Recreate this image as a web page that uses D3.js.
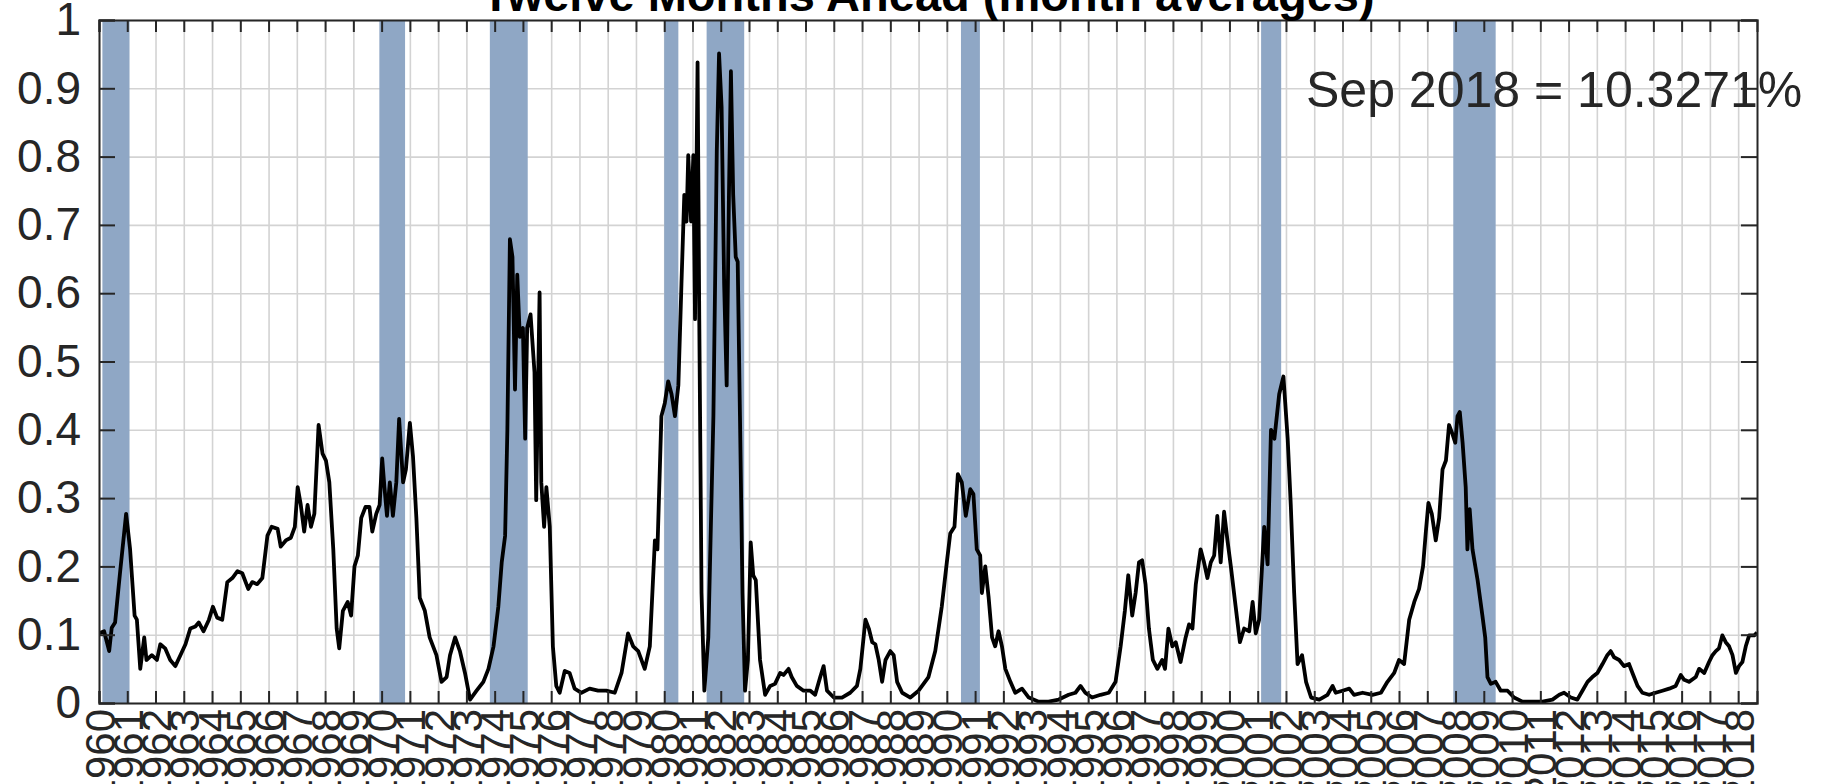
<!DOCTYPE html>
<html>
<head>
<meta charset="utf-8">
<script src="https://cdn.jsdelivr.net/npm/d3@7"></script>
<style>
  html, body { margin: 0; padding: 0; background: #fff; overflow: hidden; }
  svg { display: block; font-family: "Liberation Sans", Arial, Helvetica, sans-serif; }
  .grid line { stroke: #d3d3d3; stroke-width: 1.6; }
  .grid path { display: none; }
  .axis path, .axis line { stroke: #262626; stroke-width: 2; }
  .axis text { fill: #262626; }
</style>
</head>
<body>
<div id="chart"></div>
<script>
// recession probability, twelve months ahead
let dates = [
  1960.00, 1960.18, 1960.36, 1960.45, 1960.57, 1960.75, 1960.96, 1961.10, 1961.26, 1961.34,
  1961.46, 1961.60, 1961.68, 1961.87, 1962.05, 1962.17, 1962.34, 1962.52, 1962.70, 1962.88,
  1963.06, 1963.23, 1963.41, 1963.53, 1963.70, 1963.89, 1964.03, 1964.18, 1964.36, 1964.54,
  1964.72, 1964.90, 1965.07, 1965.28, 1965.42, 1965.60, 1965.78, 1965.96, 1966.11, 1966.32,
  1966.43, 1966.61, 1966.79, 1966.93, 1967.03, 1967.14, 1967.26, 1967.38, 1967.50, 1967.62,
  1967.77, 1967.91, 1968.03, 1968.15, 1968.29, 1968.41, 1968.50, 1968.63, 1968.80, 1968.92,
  1969.04, 1969.16, 1969.28, 1969.43, 1969.57, 1969.67, 1969.81, 1969.93, 1970.02, 1970.10,
  1970.19, 1970.29, 1970.40, 1970.52, 1970.62, 1970.76, 1970.86, 1971.00, 1971.11, 1971.23,
  1971.35, 1971.53, 1971.70, 1971.94, 1972.12, 1972.30, 1972.42, 1972.60, 1972.77, 1972.95,
  1973.13, 1973.36, 1973.60, 1973.78, 1973.96, 1974.13, 1974.25, 1974.37, 1974.45, 1974.54,
  1974.63, 1974.72, 1974.80, 1974.89, 1975.00, 1975.08, 1975.15, 1975.27, 1975.41, 1975.47,
  1975.59, 1975.65, 1975.75, 1975.83, 1975.95, 1976.06, 1976.18, 1976.30, 1976.48, 1976.65,
  1976.83, 1977.07, 1977.36, 1977.66, 1977.95, 1978.25, 1978.49, 1978.72, 1978.90, 1979.08,
  1979.31, 1979.49, 1979.67, 1979.76, 1979.90, 1980.02, 1980.14, 1980.26, 1980.38, 1980.50,
  1980.61, 1980.71, 1980.79, 1980.85, 1980.95, 1981.03, 1981.09, 1981.18, 1981.24, 1981.32,
  1981.42, 1981.56, 1981.74, 1981.86, 1981.94, 1982.03, 1982.12, 1982.21, 1982.29, 1982.36,
  1982.44, 1982.53, 1982.60, 1982.68, 1982.77, 1982.86, 1982.96, 1983.06, 1983.15, 1983.24,
  1983.39, 1983.57, 1983.75, 1983.92, 1984.10, 1984.22, 1984.40, 1984.51, 1984.69, 1984.93,
  1985.17, 1985.34, 1985.52, 1985.64, 1985.76, 1986.00, 1986.29, 1986.58, 1986.82, 1986.94,
  1987.12, 1987.24, 1987.36, 1987.47, 1987.59, 1987.71, 1987.83, 1988.00, 1988.12, 1988.24,
  1988.42, 1988.71, 1989.00, 1989.35, 1989.59, 1989.82, 1990.00, 1990.12, 1990.27, 1990.39,
  1990.53, 1990.67, 1990.83, 1990.94, 1991.06, 1991.18, 1991.24, 1991.36, 1991.48, 1991.60,
  1991.71, 1991.83, 1991.95, 1992.07, 1992.25, 1992.42, 1992.66, 1992.90, 1993.25, 1993.60,
  1993.96, 1994.31, 1994.55, 1994.73, 1994.90, 1995.14, 1995.44, 1995.73, 1995.97, 1996.15,
  1996.30, 1996.42, 1996.56, 1996.68, 1996.80, 1996.91, 1997.03, 1997.15, 1997.29, 1997.45,
  1997.62, 1997.72, 1997.84, 1997.98, 1998.10, 1998.27, 1998.45, 1998.57, 1998.69, 1998.81,
  1998.98, 1999.10, 1999.22, 1999.34, 1999.46, 1999.57, 1999.69, 1999.81, 1999.93, 2000.05,
  2000.22, 2000.37, 2000.52, 2000.70, 2000.82, 2000.93, 2001.05, 2001.23, 2001.35, 2001.47,
  2001.59, 2001.76, 2001.91, 2002.06, 2002.17, 2002.29, 2002.41, 2002.57, 2002.71, 2002.89,
  2003.18, 2003.47, 2003.65, 2003.76, 2004.00, 2004.24, 2004.41, 2004.71, 2005.06, 2005.36,
  2005.59, 2005.83, 2006.00, 2006.18, 2006.36, 2006.54, 2006.71, 2006.85, 2006.95, 2007.04,
  2007.16, 2007.30, 2007.42, 2007.54, 2007.66, 2007.77, 2007.89, 2007.99, 2008.07, 2008.15,
  2008.25, 2008.36, 2008.42, 2008.50, 2008.60, 2008.78, 2008.95, 2009.05, 2009.13, 2009.25,
  2009.42, 2009.60, 2009.84, 2010.07, 2010.37, 2010.72, 2011.08, 2011.43, 2011.67, 2011.84,
  2012.08, 2012.31, 2012.49, 2012.67, 2012.84, 2013.02, 2013.20, 2013.37, 2013.49, 2013.61,
  2013.79, 2013.96, 2014.14, 2014.26, 2014.44, 2014.61, 2014.85, 2015.08, 2015.32, 2015.56,
  2015.79, 2015.97, 2016.09, 2016.26, 2016.50, 2016.62, 2016.80, 2016.97, 2017.09, 2017.21,
  2017.32, 2017.44, 2017.56, 2017.68, 2017.80, 2017.92, 2018.03, 2018.15, 2018.27, 2018.39,
  2018.57, 2018.67
];

let probs = [
  0.102, 0.105, 0.076, 0.110, 0.118, 0.193, 0.277, 0.225, 0.128, 0.122,
  0.050, 0.096, 0.063, 0.070, 0.063, 0.086, 0.080, 0.063, 0.054, 0.070,
  0.086, 0.109, 0.112, 0.118, 0.105, 0.122, 0.141, 0.125, 0.122, 0.177,
  0.183, 0.193, 0.190, 0.167, 0.177, 0.174, 0.183, 0.245, 0.258, 0.255,
  0.229, 0.238, 0.242, 0.258, 0.316, 0.290, 0.251, 0.290, 0.258, 0.277,
  0.407, 0.365, 0.355, 0.323, 0.225, 0.109, 0.080, 0.135, 0.148, 0.128,
  0.200, 0.216, 0.271, 0.287, 0.287, 0.251, 0.277, 0.290, 0.358, 0.316,
  0.274, 0.323, 0.274, 0.323, 0.416, 0.323, 0.342, 0.410, 0.361, 0.271,
  0.154, 0.135, 0.096, 0.070, 0.031, 0.038, 0.070, 0.096, 0.076, 0.044,
  0.005, 0.018, 0.031, 0.050, 0.083, 0.141, 0.206, 0.245, 0.400, 0.679,
  0.653, 0.459, 0.627, 0.536, 0.549, 0.387, 0.549, 0.569, 0.484, 0.297,
  0.601, 0.323, 0.258, 0.316, 0.258, 0.083, 0.025, 0.015, 0.047, 0.044,
  0.021, 0.015, 0.021, 0.018, 0.018, 0.015, 0.044, 0.102, 0.083, 0.076,
  0.050, 0.083, 0.238, 0.225, 0.420, 0.439, 0.471, 0.452, 0.420, 0.465,
  0.614, 0.744, 0.705, 0.802, 0.705, 0.802, 0.562, 0.938, 0.562, 0.161,
  0.018, 0.096, 0.420, 0.808, 0.951, 0.873, 0.614, 0.465, 0.744, 0.925,
  0.744, 0.653, 0.646, 0.420, 0.161, 0.018, 0.063, 0.235, 0.187, 0.180,
  0.063, 0.012, 0.025, 0.028, 0.044, 0.041, 0.050, 0.038, 0.025, 0.018,
  0.018, 0.012, 0.038, 0.054, 0.018, 0.008, 0.008, 0.015, 0.025, 0.050,
  0.122, 0.109, 0.089, 0.086, 0.063, 0.031, 0.063, 0.076, 0.070, 0.031,
  0.015, 0.008, 0.018, 0.038, 0.076, 0.141, 0.206, 0.248, 0.258, 0.335,
  0.323, 0.274, 0.313, 0.306, 0.225, 0.216, 0.161, 0.200, 0.154, 0.096,
  0.083, 0.105, 0.083, 0.050, 0.031, 0.015, 0.021, 0.008, 0.002, 0.002,
  0.005, 0.012, 0.015, 0.025, 0.015, 0.008, 0.012, 0.015, 0.031, 0.083,
  0.135, 0.187, 0.128, 0.161, 0.206, 0.209, 0.174, 0.109, 0.063, 0.050,
  0.063, 0.050, 0.109, 0.083, 0.089, 0.060, 0.096, 0.115, 0.109, 0.174,
  0.225, 0.206, 0.183, 0.206, 0.216, 0.274, 0.206, 0.280, 0.238, 0.200,
  0.141, 0.089, 0.109, 0.105, 0.148, 0.102, 0.122, 0.258, 0.203, 0.400,
  0.387, 0.452, 0.478, 0.387, 0.290, 0.161, 0.057, 0.070, 0.031, 0.008,
  0.005, 0.012, 0.025, 0.015, 0.018, 0.021, 0.012, 0.015, 0.012, 0.015,
  0.031, 0.044, 0.063, 0.057, 0.122, 0.148, 0.167, 0.200, 0.251, 0.293,
  0.277, 0.238, 0.271, 0.342, 0.355, 0.407, 0.394, 0.381, 0.420, 0.426,
  0.381, 0.316, 0.225, 0.284, 0.225, 0.180, 0.128, 0.096, 0.038, 0.028,
  0.031, 0.018, 0.018, 0.008, 0.002, 0.002, 0.002, 0.005, 0.012, 0.015,
  0.008, 0.005, 0.018, 0.031, 0.038, 0.044, 0.057, 0.070, 0.076, 0.067,
  0.063, 0.054, 0.057, 0.044, 0.025, 0.015, 0.012, 0.015, 0.018, 0.021,
  0.025, 0.041, 0.034, 0.031, 0.038, 0.050, 0.044, 0.060, 0.070, 0.076,
  0.080, 0.099, 0.089, 0.083, 0.070, 0.044, 0.054, 0.060, 0.083, 0.099,
  0.099, 0.103
];

// recession bands, start / end as decimal years
let recStart = [1960.12, 1969.92, 1973.83, 1980.00, 1981.50, 1990.50, 2001.12, 2007.92];
let recEnd   = [1961.08, 1970.83, 1975.17, 1980.50, 1982.83, 1991.17, 2001.83, 2009.42];

let years = d3.range(1960, 2019);
let yTicks = [0, 0.1, 0.2, 0.3, 0.4, 0.5, 0.6, 0.7, 0.8, 0.9, 1];

let titleText = "Twelve Months Ahead (month averages)";
let noteText = "Sep 2018 = 10.3271%";

let width = 1829;
let height = 784;

let plotLeft = 99;
let plotRight = 1757;
let plotTop = 20;
let plotBottom = 703;

let svg = d3
  .select("#chart")
  .append("svg")
  .attr("width", width)
  .attr("height", height);

let xScale = d3.scaleLinear().domain([1960, 2018.667]).range([plotLeft, plotRight]);
let yScale = d3.scaleLinear().domain([0, 1]).range([plotBottom, plotTop]);

// grid
svg
  .append("g")
  .attr("class", "grid")
  .attr("transform", "translate(0," + plotBottom + ")")
  .call(d3.axisBottom(xScale).tickValues(years).tickSize(-(plotBottom - plotTop)).tickFormat(""));

svg
  .append("g")
  .attr("class", "grid")
  .attr("transform", "translate(" + plotLeft + ",0)")
  .call(d3.axisLeft(yScale).tickValues(yTicks).tickSize(-(plotRight - plotLeft)).tickFormat(""));

// recession bands
let bands = recStart.map(function(s, i) {
  return { s: s, e: recEnd[i] };
});

svg
  .append("g")
  .selectAll("rect")
  .data(bands)
  .enter()
  .append("rect")
  .attr("x", function(d) { return xScale(d.s); })
  .attr("width", function(d) { return xScale(d.e) - xScale(d.s); })
  .attr("y", plotTop)
  .attr("height", plotBottom - plotTop)
  .attr("fill", "#8fa7c5");

// clip for the line
svg
  .append("clipPath")
  .attr("id", "plotClip")
  .append("rect")
  .attr("x", plotLeft)
  .attr("y", plotTop)
  .attr("width", plotRight - plotLeft)
  .attr("height", plotBottom - plotTop);

let series = dates.map(function(d, i) {
  return { x: d, y: probs[i] };
});

let line = d3
  .line()
  .x(function(d) { return xScale(d.x); })
  .y(function(d) { return yScale(d.y); });

svg
  .append("path")
  .datum(series)
  .attr("clip-path", "url(#plotClip)")
  .attr("fill", "none")
  .attr("stroke", "#000")
  .attr("stroke-width", 3.8)
  .attr("stroke-linejoin", "round")
  .attr("d", line);

// axes, ticks pointing inward like matlab
let xAxis = svg
  .append("g")
  .attr("class", "axis")
  .attr("transform", "translate(0," + plotBottom + ")")
  .call(d3.axisBottom(xScale).tickValues(years).tickSize(-12).tickPadding(0).tickFormat(d3.format("d")));

xAxis
  .selectAll("text")
  .attr("font-size", 42)
  .attr("text-anchor", "end")
  .attr("transform", "rotate(-90)")
  .attr("x", -6)
  .attr("y", 0)
  .attr("dy", "0.36em");

svg
  .append("g")
  .attr("class", "axis")
  .attr("transform", "translate(0," + plotTop + ")")
  .call(d3.axisTop(xScale).tickValues(years).tickSize(-12).tickFormat(""));

let yAxis = svg
  .append("g")
  .attr("class", "axis")
  .attr("transform", "translate(" + plotLeft + ",0)")
  .call(d3.axisLeft(yScale).tickValues(yTicks).tickSize(-16).tickPadding(18).tickFormat(d3.format("~g")));

yAxis.selectAll("text").attr("font-size", 46);

svg
  .append("g")
  .attr("class", "axis")
  .attr("transform", "translate(" + plotRight + ",0)")
  .call(d3.axisRight(yScale).tickValues(yTicks).tickSize(-16).tickFormat(""));

// title, partly cut off at the top of the picture
svg
  .append("text")
  .attr("x", (plotLeft + plotRight) / 2)
  .attr("y", 11)
  .attr("text-anchor", "middle")
  .attr("font-size", 47)
  .attr("font-weight", "bold")
  .attr("fill", "#000")
  .text(titleText);

svg
  .append("text")
  .attr("x", 1306)
  .attr("y", 107)
  .attr("font-size", 50)
  .attr("fill", "#262626")
  .text(noteText);
</script>
</body>
</html>
